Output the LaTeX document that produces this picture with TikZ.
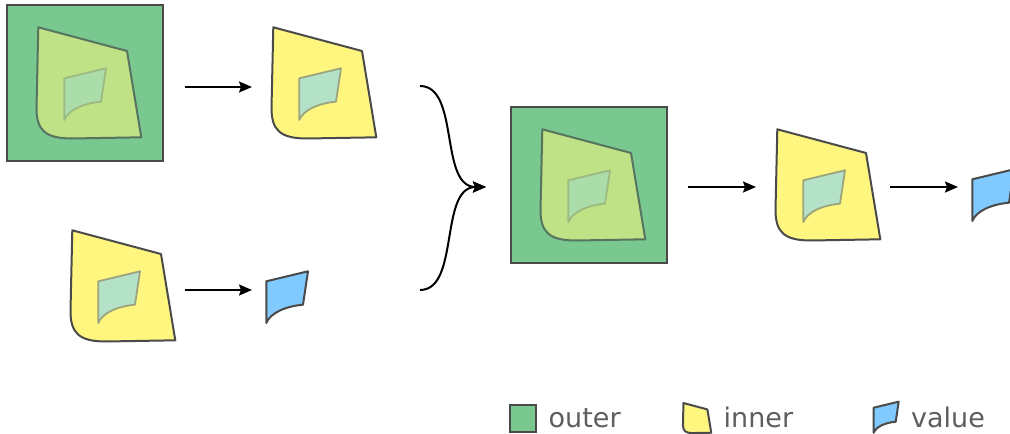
\documentclass[tikz,border=0pt]{standalone}
\usepackage{fontspec}
\setmainfont{DejaVu Sans}
\usetikzlibrary{arrows.meta}

\definecolor{outerfill}{HTML}{78C88F}
\definecolor{edgegray}{HTML}{4A4A4A}
\definecolor{yellowfill}{HTML}{FFF680}
\definecolor{mixfill}{HTML}{C0E286}
\definecolor{mixedge}{HTML}{56745F}
\definecolor{valuefill}{HTML}{80CAFF}
\definecolor{valonyellow}{HTML}{B4E2C8}
\definecolor{valonyedge}{HTML}{9CA47E}
\definecolor{valonmix}{HTML}{AADDAA}
\definecolor{valonmixedge}{HTML}{9CBA80}
\definecolor{labelgray}{HTML}{5E5E5E}

\tikzset{
  % square "outer" region
  pics/outershape/.style={code={
    \path[pic actions] (0,0) rectangle (156,156);
  }},
  % quadrilateral "inner" region with a rounded lower-left corner
  pics/innershape/.style={code={
    \path[pic actions] (31.3,22.3) -- (120,46) -- (134.3,132.3) -- (65,133.5)
      .. controls (38,133.5) and (29.5,125) .. (29.5,103) -- cycle;
  }},
  % small curved "value" patch
  pics/valueshape/.style={code={
    \path[pic actions] (57.3,73.3) -- (99,63.3) -- (94,96.7)
      .. controls (76.3,98.3) and (61.3,105) .. (57.3,115) -- cycle;
  }},
  outerstyle/.style={fill=outerfill, draw=edgegray, line width=2pt},
  innerstyle/.style={fill=yellowfill, draw=edgegray, line width=2pt, line join=round},
  innermix/.style={fill=mixfill, draw=mixedge, line width=2pt, line join=round},
  valuestyle/.style={fill=valuefill, draw=edgegray, line width=2pt, line join=round},
  valueony/.style={fill=valonyellow, draw=valonyedge, line width=1.8pt, line join=round},
  valueonmix/.style={fill=valonmix, draw=valonmixedge, line width=1.8pt, line join=round},
  arr/.style={-{Stealth[length=13pt,width=11pt,inset=2pt]}, line width=2pt, black},
  legendtext/.style={anchor=base west, inner sep=0pt, text=labelgray,
    font=\fontsize{27}{32}\selectfont},
}

\begin{document}
\begin{tikzpicture}[x=1pt, y=-1pt]
  \useasboundingbox (0,0) rectangle (1010,434);

  % full nest, top left
  \begin{scope}[shift={(7,5)}]
    \pic[outerstyle] {outershape};
    \pic[innermix] {innershape};
    \pic[valueonmix] {valueshape};
  \end{scope}

  % inner with value, top
  \begin{scope}[shift={(242,5)}]
    \pic[innerstyle] {innershape};
    \pic[valueony] {valueshape};
  \end{scope}

  % inner with value, bottom left
  \begin{scope}[shift={(41,208)}]
    \pic[innerstyle] {innershape};
    \pic[valueony] {valueshape};
  \end{scope}

  % extracted value, bottom
  \begin{scope}[shift={(209,208)}]
    \pic[valuestyle] {valueshape};
  \end{scope}

  % full nest, centre
  \begin{scope}[shift={(511,107)}]
    \pic[outerstyle] {outershape};
    \pic[innermix] {innershape};
    \pic[valueonmix] {valueshape};
  \end{scope}

  % inner with value, right
  \begin{scope}[shift={(746,107)}]
    \pic[innerstyle] {innershape};
    \pic[valueony] {valueshape};
  \end{scope}

  % extracted value, far right
  \begin{scope}[shift={(915,106)}]
    \pic[valuestyle] {valueshape};
  \end{scope}

  % arrow end points
  \coordinate (topS) at (185,87);
  \coordinate (topE) at (252,87);
  \coordinate (botS) at (185,290);
  \coordinate (botE) at (252,290);
  \coordinate (braceA) at (420,86);
  \coordinate (braceB) at (420,290);
  \coordinate (braceTip) at (486,187);
  \coordinate (midS) at (688,187);
  \coordinate (midE) at (756,187);
  \coordinate (rightS) at (890,187);
  \coordinate (rightE) at (958,187);

  \draw[arr] (topS) -- (topE);
  \draw[arr] (botS) -- (botE);
  \draw[arr] (braceA) .. controls +(40,0) and +(-47,0) .. (braceTip);
  \draw[arr] (braceB) .. controls +(40,0) and +(-47,0) .. (braceTip);
  \draw[arr] (midS) -- (midE);
  \draw[arr] (rightS) -- (rightE);

  % legend
  \draw[outerstyle] (510,405) rectangle (536,432);
  \node[legendtext] (lgOuter) at (548.5,427) {outer};
  \begin{scope}[shift={(675,397)}, scale=0.27]
    \pic[innerstyle, transform shape] {innershape};
  \end{scope}
  \node[legendtext] (lgInner) at (723.5,427) {inner};
  \begin{scope}[shift={(839.3,363.7)}, scale=0.6]
    \pic[valuestyle, transform shape] {valueshape};
  \end{scope}
  \node[legendtext] (lgValue) at (911,427) {value};
\end{tikzpicture}
\end{document}
